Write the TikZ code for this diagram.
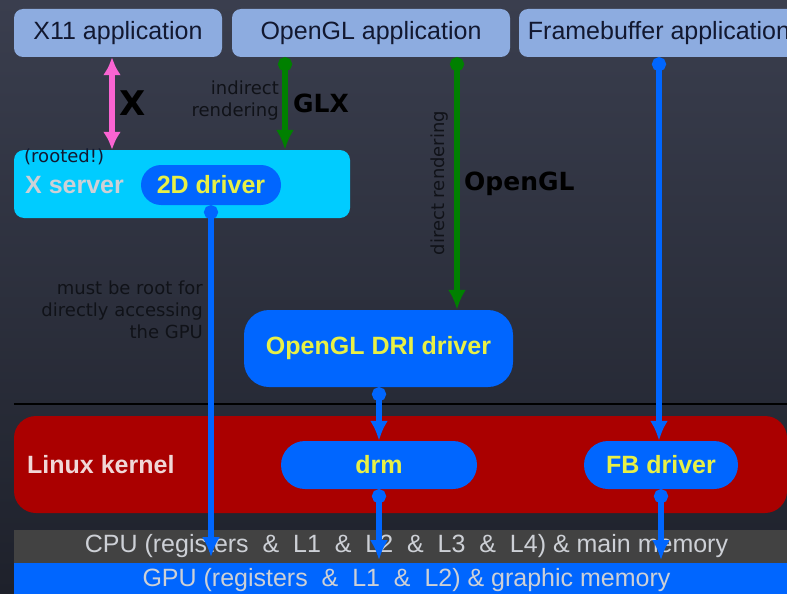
\documentclass[tikz,border=0pt]{standalone}
\usepackage{fontspec}
\setmainfont{Liberation Sans}
\newfontfamily\dejavu{DejaVu Sans}
\usetikzlibrary{arrows.meta}
\definecolor{bgtop}{RGB}{58,62,78}
\definecolor{bgbot}{RGB}{30,33,43}
\definecolor{appblue}{RGB}{141,172,224}
\definecolor{apptext}{RGB}{18,24,48}
\definecolor{xcyan}{RGB}{0,204,255}
\definecolor{drvblue}{RGB}{0,102,255}
\definecolor{drvyellow}{RGB}{232,240,70}
\definecolor{kernred}{RGB}{170,0,0}
\definecolor{glgreen}{RGB}{0,128,0}
\definecolor{xpink}{RGB}{250,100,210}
\definecolor{cpugray}{RGB}{66,66,66}
\definecolor{lighttext}{RGB}{205,208,214}
\definecolor{darktext}{RGB}{16,18,24}

\begin{document}
\begin{tikzpicture}[x=1pt, y=-1pt,
	app/.style={fill=appblue, rounded corners=9pt, text=apptext, minimum height=48pt, inner sep=0pt, font=\fontsize{25}{28}\selectfont},
	drv/.style={fill=drvblue, text=drvyellow, inner sep=0pt, font=\bfseries\fontsize{25}{28}\selectfont},
	band/.style={minimum width=773pt, minimum height=33pt, inner sep=0pt, text=lighttext, font=\fontsize{25}{28}\selectfont},
	note/.style={text=darktext, inner sep=0pt, font=\dejavu\fontsize{18}{22}\selectfont},
	tag/.style={text=black, inner sep=0pt, font=\dejavu\bfseries\fontsize{25}{28}\selectfont},
	bluearrow/.style={draw=drvblue, line width=6pt, {Circle[length=14pt]}-{Latex[length=20pt,width=18pt]}},
	greenarrow/.style={draw=glgreen, line width=6pt, {Circle[length=14pt]}-{Latex[length=20pt,width=18pt]}},
	pinkarrow/.style={draw=xpink, line width=6pt, {Latex[length=18pt,width=18pt]}-{Latex[length=18pt,width=18pt]}}]
				\useasboundingbox (0,0) rectangle (787,594);
				\shade[top color=bgtop, bottom color=bgbot] (0,0) rectangle (787,594);
				\node[app, minimum width=208pt] (X11)at(118, 33) {X11 application};
				\node[app, minimum width=278pt] (OGL)at(371, 33) {OpenGL application};
				\node[app, minimum width=280pt] (FB)at(659, 33) {Framebuffer application};
				\node[fill=xcyan, rounded corners=10pt, minimum width=336pt, minimum height=68pt] (XS)at(182, 184) {};
				\node[anchor=west, text=lighttext, inner sep=0pt, font=\bfseries\fontsize{25}{28}\selectfont] (XSL)at(25, 185) {X server};
				\node[anchor=west, text=apptext, inner sep=0pt, font=\dejavu\fontsize{18}{20}\selectfont] (ROOT)at(24, 157) {(rooted!)};
				\node[drv, rounded corners=20pt, minimum width=140pt, minimum height=40pt] (D2)at(211, 185) {2D driver};
				\node[drv, rounded corners=25pt, minimum width=269pt, minimum height=77pt] (DRI)at(378.5, 348.5) {OpenGL DRI driver};
				\node[fill=kernred, rounded corners=22pt, minimum width=773pt, minimum height=97pt] (K)at(400.5, 464.5) {};
				\node[anchor=west, text={rgb,255:red,240;green,215;blue,215}, inner sep=0pt, font=\bfseries\fontsize{25}{28}\selectfont] (KL)at(27, 465) {Linux kernel};
				\node[drv, rounded corners=24pt, minimum width=196pt, minimum height=48pt] (DRM)at(379, 465) {drm};
				\node[drv, rounded corners=24pt, minimum width=154pt, minimum height=48pt] (FBD)at(661, 465) {FB driver};
				\node[band, fill=cpugray] (CPU)at(400.5, 546.5) {\hspace*{12pt}CPU (registers \ \& \ L1 \ \& \ L2 \ \& \ L3 \ \& \ L4) \& main memory};
				\node[band, fill=drvblue, anchor=north] (GPU)at(CPU.south) {\hspace*{12pt}GPU (registers \ \& \ L1 \ \& \ L2) \& graphic memory};
				\draw[line width=1.5pt, black] (K.north west |- 0,404) -- (K.north east |- 0,404);
				\coordinate (XL)at(112, 0);
				\coordinate (GLX)at(285, 0);
				\coordinate (GL)at(457, 0);
				\draw[pinkarrow] (X11.south -| XL) -- (XS.north -| XL);
				\draw[greenarrow] (OGL.south -| GLX) -- (XS.north -| GLX);
				\draw[greenarrow] (OGL.south -| GL) -- (DRI.north -| GL);
				\draw[bluearrow] (FB.south) -- (FBD.north -| FB.south);
				\draw[bluearrow, shorten >=6pt] (D2.south) -- (CPU.south -| D2.south);
				\draw[bluearrow] (DRI.south -| DRM.north) -- (DRM.north);
				\draw[bluearrow, shorten >=3pt] (DRM.south) -- (CPU.south -| DRM.south);
				\draw[bluearrow, shorten >=3pt] (FBD.south) -- (CPU.south -| FBD.south);
				\node[text=black, inner sep=0pt, font=\dejavu\bfseries\fontsize{34}{36}\selectfont] (XT)at(133, 103) {X};
				\node[note, anchor=east, align=right] (IND)at(279, 101) {indirect\\rendering};
				\node[tag, anchor=west] (GLXT)at(293, 103) {GLX};
				\node[note, rotate=90] (DIR)at(440, 183) {direct rendering};
				\node[tag, anchor=west] (GLT)at(464, 184) {OpenGL};
				\node[note, anchor=east, align=right] (ROOTN)at(203, 310) {must be root for\\directly accessing\\the GPU};
			\end{tikzpicture}
\end{document}
